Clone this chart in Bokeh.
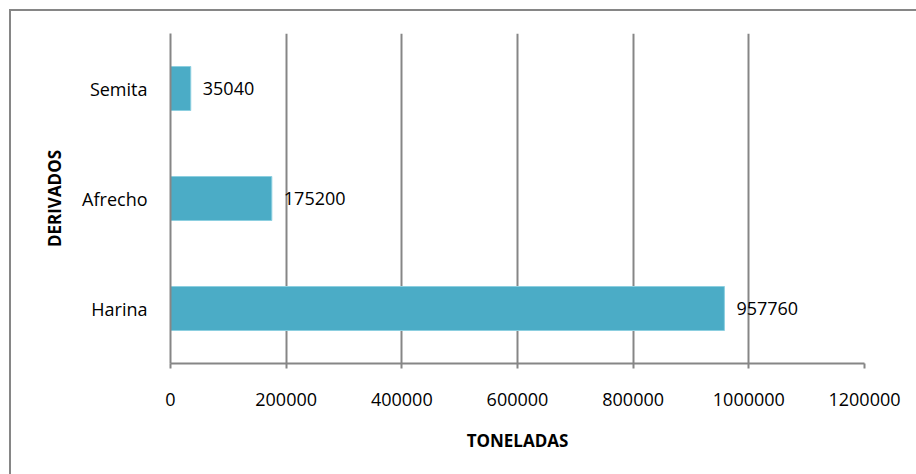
from bokeh.plotting import figure
from bokeh.models import (ColumnDataSource, FactorRange, Range1d, FixedTicker,
                          NumeralTickFormatter, LabelSet)
from bokeh.core.properties import value
from bokeh.embed import file_html
from bokeh.resources import INLINE

categories = ["Harina", "Afrecho", "Semita"]
values = [957760, 175200, 35040]
value_labels = ["957760", "175200", "35040"]
x_ticks = [0, 200000, 400000, 600000, 800000, 1000000, 1200000]

BAR = "#4BACC6"
GREY = "#868686"
FONT = "Open Sans"

src = ColumnDataSource(dict(cat=categories, val=values, lab=value_labels))

p = figure(width=916, height=474, output_backend="svg", toolbar_location=None,
           y_range=FactorRange(*categories), x_range=Range1d(0, 1200000),
           min_border_left=170, min_border_right=52, min_border_top=33,
           min_border_bottom=111)
p.outline_line_color = None
p.background_fill_color = "white"
p.border_fill_color = "white"

p.hbar(y="cat", right="val", left=0, height=0.4, source=src,
       fill_color=BAR, line_color="#8ccfe0", line_width=1)

labels = LabelSet(x="val", y="cat", text="lab", source=src, x_offset=12,
                  text_baseline="middle", text_align="left",
                  text_font=value(FONT), text_font_size="18px", text_color="#000000")
p.add_layout(labels)

# x axis
xa = p.xaxis[0]
xa.ticker = FixedTicker(ticks=x_ticks)
xa.formatter = NumeralTickFormatter(format="0")
xa.axis_line_color = GREY
xa.axis_line_width = 2
xa.major_tick_line_color = GREY
xa.major_tick_line_width = 2
xa.major_tick_in = 0
xa.major_tick_out = 5
xa.minor_tick_line_color = None
xa.major_label_text_font = FONT
xa.major_label_text_font_size = "18px"
xa.major_label_text_color = "#000000"
xa.major_label_standoff = 24
xa.axis_label = "TONELADAS"
xa.axis_label_text_font = FONT
xa.axis_label_text_font_size = "17px"
xa.axis_label_text_font_style = "bold"
xa.axis_label_text_color = "#000000"
xa.axis_label_standoff = 20

# y axis
ya = p.yaxis[0]
ya.axis_line_color = GREY
ya.axis_line_width = 2
ya.major_tick_line_color = None
ya.minor_tick_line_color = None
ya.major_label_text_font = FONT
ya.major_label_text_font_size = "18px"
ya.major_label_text_color = "#000000"
ya.major_label_standoff = 17
ya.axis_label = "DERIVADOS"
ya.axis_label_text_font = FONT
ya.axis_label_text_font_size = "17px"
ya.axis_label_text_font_style = "bold"
ya.axis_label_text_color = "#000000"
ya.axis_label_standoff = 13

p.xgrid.grid_line_color = GREY
p.xgrid.grid_line_width = 2
p.xgrid.ticker = FixedTicker(ticks=x_ticks)
p.ygrid.grid_line_color = None

html = file_html(p, INLINE)
frame_div = ('<div style="position:absolute;left:9px;top:9px;width:905px;height:463px;'
             'border-left:2px solid #868686;border-top:2px solid #868686;'
             'pointer-events:none;z-index:10;"></div>')
html = html.replace("</body>", frame_div + "</body>")
open("out.html", "w").write(html)
